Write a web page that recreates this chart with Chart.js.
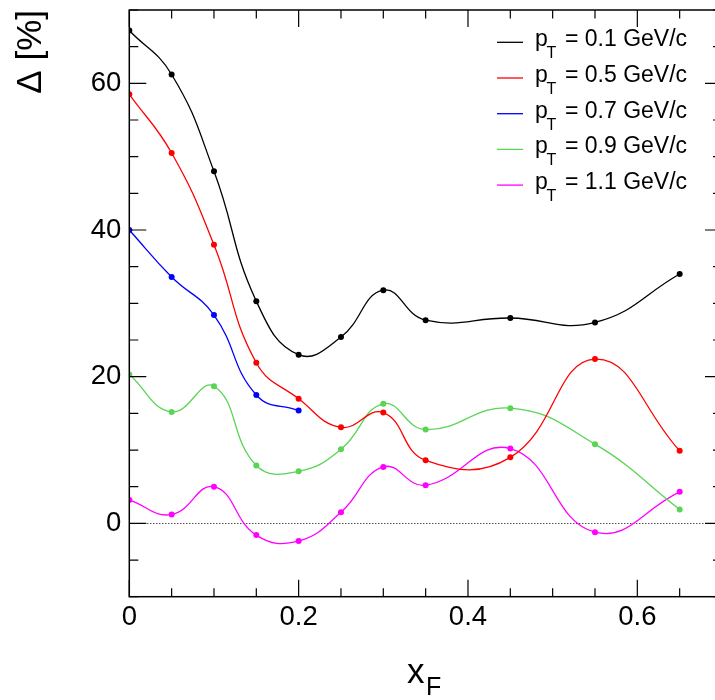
<!DOCTYPE html>
<html>
<head>
<meta charset="utf-8">
<script src="https://cdn.jsdelivr.net/npm/chart.js@4/dist/chart.umd.min.js"></script>
<style>
  html, body { margin: 0; padding: 0; background: #fff; overflow: hidden; }
  #wrap { width: 715px; height: 700px; overflow: hidden; position: relative; }
  canvas { display: block; }
</style>
</head>
<body>
<div id="wrap"><canvas id="c" width="730" height="700"></canvas></div>
<script>
// ---- data ----
const xF = [0, 0.05, 0.1, 0.15, 0.2, 0.25, 0.3, 0.35, 0.45, 0.55, 0.65];
const xF_short = [0, 0.05, 0.1, 0.15, 0.2];
const pt01 = [67.2, 61.2, 48.0, 30.3, 23.0, 25.4, 31.8, 27.7, 28.0, 27.4, 34.0];
const pt05 = [58.5, 50.5, 38.0, 21.9, 17.0, 13.1, 15.1, 8.6, 9.0, 22.4, 9.9];
const pt07 = [40.0, 33.6, 28.4, 17.5, 15.4];
const pt09 = [20.3, 15.2, 18.7, 7.9, 7.1, 10.1, 16.3, 12.8, 15.7, 10.8, 1.9];
const pt11 = [3.2, 1.2, 5.0, -1.6, -2.4, 1.5, 7.7, 5.2, 10.2, -1.2, 4.3];
const ptLabels = ['0.1', '0.5', '0.7', '0.9', '1.1'];
const xTickLabels = [0, 0.2, 0.4, 0.6];
const yTickLabels = [0, 20, 40, 60];
const colors = ['#000000', '#ff0000', '#0000ff', '#59d454', '#ff00ff'];

const FONT = '"Liberation Sans", Arial, Helvetica, sans-serif';

function pts(xs, ys) { return xs.map((x, i) => ({ x: x, y: ys[i] })); }

const seriesData = [pts(xF, pt01), pts(xF, pt05), pts(xF_short, pt07), pts(xF, pt09), pts(xF, pt11)];

const datasets = seriesData.map((d, i) => ({
  label: 'p_T = ' + ptLabels[i] + ' GeV/c',
  data: d,
  borderColor: colors[i],
  backgroundColor: colors[i],
  borderWidth: 1.3,
  pointRadius: 3,
  pointBorderWidth: 0,
  pointBackgroundColor: colors[i],
  tension: 0.45,
  fill: false
}));

const framePlugin = {
  id: 'frame',
  beforeDatasetsDraw(chart) {
    const { ctx, chartArea: a, scales: { x, y } } = chart;
    ctx.save();
    ctx.strokeStyle = '#000';
    ctx.lineWidth = 1;
    ctx.setLineDash([1, 2]);
    const y0 = Math.round(y.getPixelForValue(0)) + 0.5;
    ctx.beginPath();
    ctx.moveTo(x.getPixelForValue(0), y0);
    ctx.lineTo(x.getPixelForValue(0.7), y0);
    ctx.stroke();
    ctx.restore();
  },
  afterDatasetsDraw(chart) {
    const { ctx, chartArea: a, scales: { x, y } } = chart;
    ctx.save();
    ctx.strokeStyle = '#000';
    ctx.lineWidth = 1.5;
    ctx.strokeRect(a.left, a.top, a.right - a.left, a.bottom - a.top);
    ctx.lineWidth = 1.2;
    ctx.beginPath();
    // x ticks
    for (let k = 0; k <= 14; k++) {
      const v = k * 0.05;
      const px = x.getPixelForValue(v);
      const major = (k % 4 === 0);
      const L = major ? 17 : 8.5;
      ctx.moveTo(px, a.bottom); ctx.lineTo(px, a.bottom - L);
      ctx.moveTo(px, a.top); ctx.lineTo(px, a.top + L);
    }
    // y ticks
    for (let v = -10; v <= 70; v += 5) {
      const py = y.getPixelForValue(v);
      const major = (v % 20 === 0);
      const L = major ? 17 : 9;
      ctx.moveTo(a.left, py); ctx.lineTo(a.left + L, py);
      ctx.moveTo(a.right, py); ctx.lineTo(a.right - L, py);
    }
    ctx.stroke();

    // legend
    chart.data.datasets.forEach((ds, i) => {
      const ly = 42.3 + 35.7 * i;
      ctx.strokeStyle = ds.borderColor;
      ctx.lineWidth = 1.3;
      ctx.beginPath();
      ctx.moveTo(497, ly); ctx.lineTo(523, ly);
      ctx.stroke();
      ctx.fillStyle = '#000';
      ctx.textAlign = 'left';
      ctx.textBaseline = 'alphabetic';
      ctx.font = '23px ' + FONT;
      ctx.fillText('p', 535, ly + 4);
      ctx.font = '16px ' + FONT;
      ctx.fillText('T', 546.5, ly + 16);
      ctx.font = '23px ' + FONT;
      ctx.fillText('= ' + ptLabels[i] + ' GeV/c', 565, ly + 4);
    });

    // axis titles
    ctx.fillStyle = '#000';
    ctx.textBaseline = 'alphabetic';
    ctx.textAlign = 'left';
    ctx.font = '35px ' + FONT;
    ctx.fillText('x', 407, 683);
    ctx.font = '25px ' + FONT;
    ctx.fillText('F', 426, 695);

    ctx.save();
    ctx.translate(41, 10);
    ctx.rotate(-Math.PI / 2);
    ctx.textAlign = 'right';
    ctx.font = '35px ' + FONT;
    ctx.fillText('\u0394 [%]', 0, 0);
    ctx.restore();

    ctx.restore();
  }
};

new Chart(document.getElementById('c'), {
  type: 'line',
  data: { datasets: datasets },
  options: {
    responsive: false,
    animation: false,
    devicePixelRatio: 1,
    layout: { padding: { top: 10, right: 8, left: 0, bottom: 0 } },
    plugins: { legend: { display: false }, tooltip: { enabled: false } },
    scales: {
      x: {
        type: 'linear',
        min: 0, max: 0.7,
        afterFit: s => { s.height = 103.3; s.paddingLeft = 0; s.paddingRight = 0; },
        afterBuildTicks: s => { s.ticks = xTickLabels.map(v => ({ value: v })); },
        grid: { display: false, drawTicks: false },
        border: { display: false },
        ticks: {
          color: '#000',
          font: { family: FONT, size: 27.5 },
          padding: 4,
          maxRotation: 0,
          autoSkip: false,
          callback: v => (v === 0 ? '0' : v.toFixed(1))
        }
      },
      y: {
        type: 'linear',
        min: -10, max: 70,
        afterFit: s => { s.width = 129.3; s.paddingTop = 0; s.paddingBottom = 0; },
        afterBuildTicks: s => { s.ticks = yTickLabels.map(v => ({ value: v })); },
        grid: { display: false, drawTicks: false },
        border: { display: false },
        ticks: {
          color: '#000',
          font: { family: FONT, size: 27.5 },
          padding: 8,
          autoSkip: false,
          callback: v => String(v)
        }
      }
    }
  },
  plugins: [framePlugin]
});
</script>
</body>
</html>
